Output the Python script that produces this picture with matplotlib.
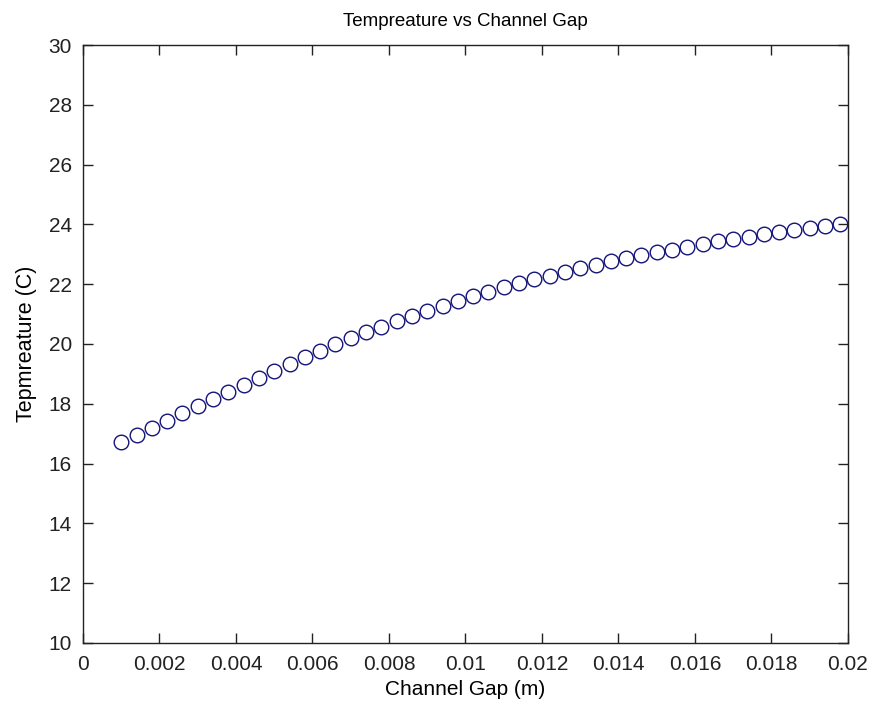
import matplotlib
matplotlib.use('Agg')
import matplotlib.pyplot as plt
import numpy as np

# datos
gap = [0.0010, 0.0014, 0.0018, 0.0022, 0.0026, 0.0030, 0.0034, 0.0038,
       0.0042, 0.0046, 0.0050, 0.0054, 0.0058, 0.0062, 0.0066, 0.0070,
       0.0074, 0.0078, 0.0082, 0.0086, 0.0090, 0.0094, 0.0098, 0.0102,
       0.0106, 0.0110, 0.0114, 0.0118, 0.0122, 0.0126, 0.0130, 0.0134,
       0.0138, 0.0142, 0.0146, 0.0150, 0.0154, 0.0158, 0.0162, 0.0166,
       0.0170, 0.0174, 0.0178, 0.0182, 0.0186, 0.0190, 0.0194, 0.0198]
temp = [16.73, 16.96, 17.19, 17.43, 17.68, 17.92, 18.15, 18.39,
        18.62, 18.86, 19.09, 19.32, 19.55, 19.77, 19.99, 20.19,
        20.39, 20.58, 20.76, 20.94, 21.11, 21.28, 21.44, 21.60,
        21.75, 21.89, 22.03, 22.16, 22.29, 22.41, 22.53, 22.65,
        22.76, 22.87, 22.97, 23.07, 23.16, 23.25, 23.34, 23.43,
        23.51, 23.59, 23.67, 23.75, 23.82, 23.89, 23.96, 24.02]
xticks = [0, 0.002, 0.004, 0.006, 0.008, 0.01, 0.012, 0.014, 0.016, 0.018, 0.02]
xticklabels = ['0', '0.002', '0.004', '0.006', '0.008', '0.01', '0.012',
               '0.014', '0.016', '0.018', '0.02']
yticks = [10, 12, 14, 16, 18, 20, 22, 24, 26, 28, 30]

plt.rcParams['font.family'] = ['Liberation Sans', 'DejaVu Sans']

fig = plt.figure(figsize=(8.7, 7.1), dpi=100)
ax = fig.add_axes([0.0954, 0.0944, 0.8793, 0.8422])

ax.plot(gap, temp, linestyle='none', marker='o', markersize=10.5,
        markerfacecolor='none', markeredgecolor='#14147a', markeredgewidth=1.0)

ax.set_xlim(0, 0.02)
ax.set_ylim(10, 30)
ax.set_xticks(xticks)
ax.set_xticklabels(xticklabels)
ax.set_yticks(yticks)
ax.tick_params(direction='in', length=7, width=1, top=True, right=True,
               labelsize=15, colors='#222222')
ax.tick_params(axis='x', pad=9)
ax.tick_params(axis='y', pad=8)
for s in ax.spines.values():
    s.set_linewidth(1)
    s.set_color('#222222')

ax.set_title('Tempreature vs Channel Gap', fontsize=13.5, pad=14)
ax.set_xlabel('Channel Gap (m)', fontsize=15, labelpad=4)
ax.set_ylabel('Tepmreature (C)', fontsize=15.5, labelpad=8)

plt.savefig('out.png', dpi=100)
